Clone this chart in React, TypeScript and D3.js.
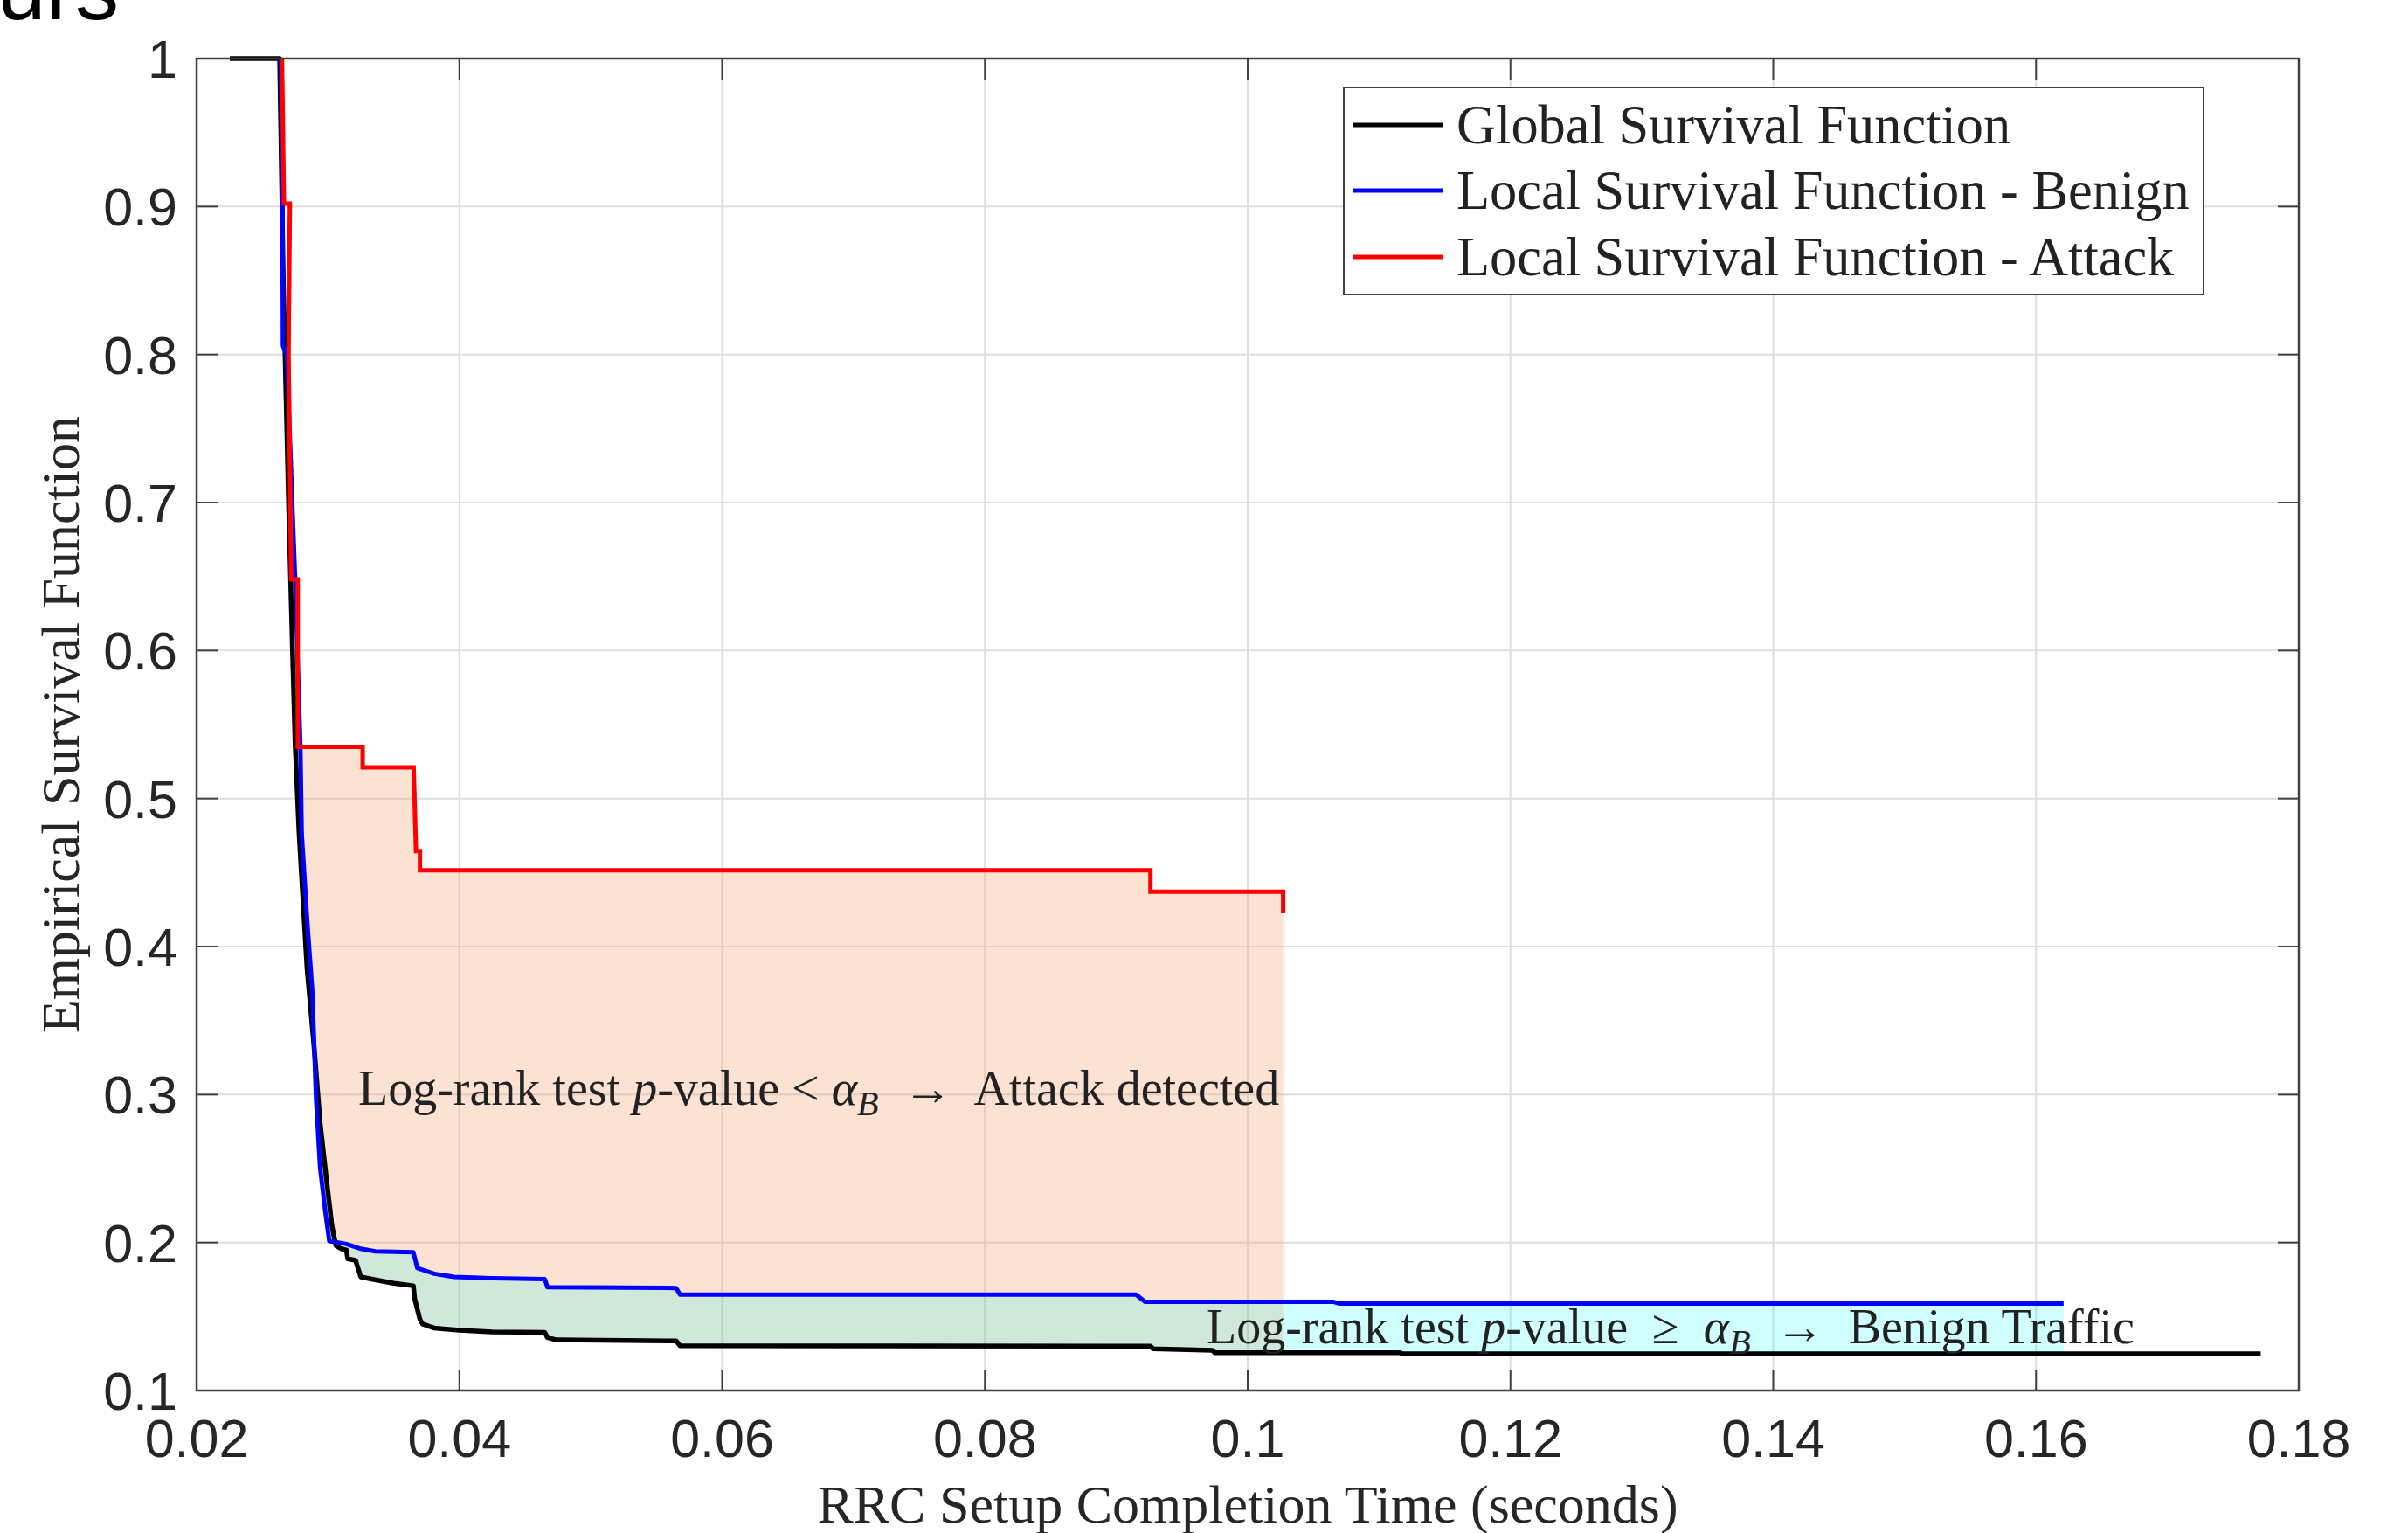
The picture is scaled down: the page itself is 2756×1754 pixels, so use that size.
import React, { useEffect } from "react";
import * as d3 from "d3";

const X_TICKS = [0.02, 0.04, 0.06, 0.08, 0.1, 0.12, 0.14, 0.16, 0.18];
const X_TICK_LABELS = ["0.02", "0.04", "0.06", "0.08", "0.1", "0.12", "0.14", "0.16", "0.18"];
const Y_TICKS = [0.1, 0.2, 0.3, 0.4, 0.5, 0.6, 0.7, 0.8, 0.9, 1];
const Y_TICK_LABELS = ["0.1", "0.2", "0.3", "0.4", "0.5", "0.6", "0.7", "0.8", "0.9", "1"];

const SERIES_NAMES = [
  "Global Survival Function",
  "Local Survival Function - Benign",
  "Local Survival Function - Attack",
];
const SERIES_COLORS = ["#000000", "#0000ff", "#ff0000"];

// Global survival function (time, survival)
const GLOBAL_SF: [number, number][] = [
  [0.02253, 1.0], [0.02632, 1.0], [0.0266, 0.85], [0.027, 0.7], [0.0273, 0.6],
  [0.0275, 0.537], [0.0278, 0.4765], [0.0281, 0.431], [0.0284, 0.386], [0.029, 0.326],
  [0.0294, 0.281], [0.0299, 0.2416], [0.0303, 0.2114], [0.0306, 0.198], [0.031, 0.1958],
  [0.0314, 0.195], [0.0315, 0.189], [0.0321, 0.188], [0.0322, 0.185], [0.0325, 0.1768],
  [0.0335, 0.175], [0.035, 0.1725], [0.0365, 0.1708], [0.0366, 0.162], [0.037, 0.148],
  [0.0372, 0.145], [0.0381, 0.1422], [0.04, 0.1407], [0.0425, 0.1395], [0.0465, 0.1393],
  [0.0467, 0.1358], [0.0474, 0.1342], [0.0565, 0.1335], [0.0568, 0.1302], [0.0926, 0.13],
  [0.0928, 0.1282], [0.0973, 0.1272], [0.0975, 0.1256], [0.1116, 0.1255], [0.1118, 0.1248],
  [0.1771, 0.1248],
];

// Local survival function - benign
const BENIGN_SF: [number, number][] = [
  [0.0264, 1.0], [0.02654, 0.9], [0.02657, 0.806], [0.02687, 0.799], [0.0275, 0.648],
  [0.0279, 0.535], [0.028, 0.4765], [0.02843, 0.416], [0.0288, 0.371], [0.0291, 0.296],
  [0.0294, 0.2506], [0.0298, 0.2205], [0.0301, 0.2009], [0.0308, 0.2], [0.0314, 0.199],
  [0.0325, 0.1958], [0.0336, 0.194], [0.0365, 0.1934], [0.0368, 0.1828], [0.0381, 0.1789],
  [0.0396, 0.1768], [0.0425, 0.1759], [0.0465, 0.1753], [0.0467, 0.1699], [0.0565, 0.1693],
  [0.0568, 0.1648], [0.0915, 0.1648], [0.0922, 0.16], [0.1065, 0.16], [0.107, 0.1587],
  [0.1621, 0.1587],
];

// Local survival function - attack
const ATTACK_SF: [number, number][] = [
  [0.0265, 1.0], [0.02665, 0.902], [0.0271, 0.902], [0.027, 0.8], [0.0272, 0.648],
  [0.0277, 0.648], [0.0277, 0.535], [0.03264, 0.535], [0.03264, 0.521], [0.03652, 0.521],
  [0.0367, 0.4645], [0.037, 0.4645], [0.037, 0.4515], [0.0926, 0.4515], [0.0926, 0.437],
  [0.1027, 0.437], [0.1027, 0.4225],
];

const ATTACK_END = 0.1027;
const BENIGN_END = 0.1621;

const W = 2756;
const H = 1754;
const M = { left: 225, right: 2631, top: 67, bottom: 1591 };

function clipX(pts: [number, number][], x0: number, x1: number): [number, number][] {
  const out: [number, number][] = [];
  for (let i = 0; i < pts.length; i++) {
    const p = pts[i];
    const q = pts[i - 1];
    if (q) {
      const lerp = (x: number): [number, number] => [x, q[1] + ((p[1] - q[1]) * (x - q[0])) / (p[0] - q[0])];
      if (q[0] < x0 && p[0] > x0) out.push(lerp(x0));
      if (q[0] < x1 && p[0] > x1) out.push(lerp(x1));
    }
    if (p[0] >= x0 && p[0] <= x1) out.push(p);
  }
  return out;
}

export default function App() {
  useEffect(() => {
    document.body.style.margin = "0";
  }, []);

  const x = d3.scaleLinear().domain([0.02, 0.18]).range([M.left, M.right]);
  const y = d3.scaleLinear().domain([0.1, 1]).range([M.bottom, M.top]);
  const line = d3.line<[number, number]>().x((d) => x(d[0])).y((d) => y(d[1]));

  // Orange: between attack and benign
  const redStart = ATTACK_SF.findIndex((p) => p[1] <= 0.5351);
  const redPart = ATTACK_SF.slice(redStart).filter((p) => p[0] <= ATTACK_END && p[1] > 0.43);
  const bluePartOrange = clipX(BENIGN_SF, 0.0279, ATTACK_END).filter((p) => p[1] <= 0.5351);
  const orangePoly = [...redPart, ...bluePartOrange.slice().reverse()];

  // Green: between benign and global up to the attack end
  const greenTop = clipX(BENIGN_SF, 0.0275, ATTACK_END);
  const greenBot = clipX(GLOBAL_SF, 0.0275, ATTACK_END);
  const greenPoly = [...greenTop, ...greenBot.slice().reverse()];

  // Cyan: between benign and global after the attack end
  const cyanTop = clipX(BENIGN_SF, ATTACK_END, BENIGN_END);
  const cyanBot = clipX(GLOBAL_SF, ATTACK_END, BENIGN_END);
  const cyanPoly = [...cyanTop, ...cyanBot.slice().reverse()];

  const serif = "'Liberation Serif', 'Times New Roman', serif";
  const sans = "'Liberation Sans', Arial, Helvetica, sans-serif";
  const axisColor = "#404040";

  const legendX0 = 1538;
  const legendY0 = 100;
  const legendW = 984;
  const legendH = 237;
  const legendRows = [143, 218, 294];
  const annSize = 56;
  const subSize = 40;

  return (
    <svg
      width={W}
      height={H}
      viewBox={`0 0 ${W} ${H}`}
      style={{ display: "block", position: "absolute", left: 0, top: 0, background: "#fff" }}
    >
      <rect x={0} y={0} width={W} height={H} fill="#ffffff" />
      <text x={136} y={22} fontFamily={sans} fontSize={100} textAnchor="end" fill="#000">
        urs
      </text>

      {/* grid */}
      {X_TICKS.slice(1, -1).map((t) => (
        <line key={"gx" + t} x1={x(t)} x2={x(t)} y1={M.top} y2={M.bottom} stroke="#dedede" strokeWidth={2} />
      ))}
      {Y_TICKS.slice(1, -1).map((t) => (
        <line key={"gy" + t} x1={M.left} x2={M.right} y1={y(t)} y2={y(t)} stroke="#dedede" strokeWidth={2} />
      ))}

      {/* fills */}
      <path d={line(orangePoly) + "Z"} fill="rgb(245,158,108)" fillOpacity={0.3} stroke="none" />
      <path d={line(greenPoly) + "Z"} fill="rgb(98,178,132)" fillOpacity={0.3} stroke="none" />
      <path d={line(cyanPoly) + "Z"} fill="rgb(0,255,255)" fillOpacity={0.19} stroke="none" />

      {/* curves */}
      <path d={line(GLOBAL_SF) || ""} fill="none" stroke={SERIES_COLORS[0]} strokeWidth={5.5} strokeLinejoin="round" />
      <path d={line(BENIGN_SF) || ""} fill="none" stroke={SERIES_COLORS[1]} strokeWidth={5} strokeLinejoin="round" />
      <path d={line(ATTACK_SF) || ""} fill="none" stroke={SERIES_COLORS[2]} strokeWidth={5} strokeLinejoin="miter" />

      {/* annotations */}
      <text x={410} y={1264} fontFamily={serif} fontSize={annSize} fill="#222" style={{ whiteSpace: "pre" }}>
        Log-rank test <tspan fontStyle="italic">p</tspan>-value {"<"} <tspan fontStyle="italic">α</tspan>
        <tspan fontStyle="italic" fontSize={subSize} dy={12}>B</tspan>
        <tspan dy={-12}>{"  →  Attack detected"}</tspan>
      </text>
      <text x={1381} y={1537} fontFamily={serif} fontSize={annSize} fill="#222" style={{ whiteSpace: "pre" }}>
        Log-rank test <tspan fontStyle="italic">p</tspan>-value {" ≥  "}<tspan fontStyle="italic">α</tspan>
        <tspan fontStyle="italic" fontSize={subSize} dy={12}>B</tspan>
        <tspan dy={-12}>{"  →  Benign Traffic"}</tspan>
      </text>

      {/* axes box */}
      <rect x={M.left} y={M.top} width={M.right - M.left} height={M.bottom - M.top} fill="none" stroke={axisColor} strokeWidth={2.5} />
      {X_TICKS.map((t) => (
        <g key={"tx" + t}>
          <line x1={x(t)} x2={x(t)} y1={M.bottom} y2={M.bottom - 24} stroke={axisColor} strokeWidth={2} />
          <line x1={x(t)} x2={x(t)} y1={M.top} y2={M.top + 24} stroke={axisColor} strokeWidth={2} />
        </g>
      ))}
      {Y_TICKS.map((t) => (
        <g key={"ty" + t}>
          <line x1={M.left} x2={M.left + 24} y1={y(t)} y2={y(t)} stroke={axisColor} strokeWidth={2} />
          <line x1={M.right} x2={M.right - 24} y1={y(t)} y2={y(t)} stroke={axisColor} strokeWidth={2} />
        </g>
      ))}

      {/* tick labels */}
      {X_TICKS.map((t, i) => (
        <text key={"lx" + t} x={x(t)} y={1667} fontFamily={sans} fontSize={61} textAnchor="middle" fill="#262626">
          {X_TICK_LABELS[i]}
        </text>
      ))}
      {Y_TICKS.map((t, i) => (
        <text key={"ly" + t} x={203} y={y(t) + 22} fontFamily={sans} fontSize={61} textAnchor="end" fill="#262626">
          {Y_TICK_LABELS[i]}
        </text>
      ))}

      {/* axis labels */}
      <text x={(M.left + M.right) / 2} y={1742} fontFamily={serif} fontSize={62} textAnchor="middle" fill="#262626">
        RRC Setup Completion Time (seconds)
      </text>
      <text
        transform={`translate(90, ${(M.top + M.bottom) / 2}) rotate(-90)`}
        fontFamily={serif}
        fontSize={62}
        textAnchor="middle"
        fill="#262626"
      >
        Empirical Survival Function
      </text>

      {/* legend */}
      <rect x={legendX0} y={legendY0} width={legendW} height={legendH} fill="#ffffff" stroke={axisColor} strokeWidth={2} />
      {SERIES_NAMES.map((name, i) => (
        <g key={name}>
          <line x1={1548} x2={1652} y1={legendRows[i]} y2={legendRows[i]} stroke={SERIES_COLORS[i]} strokeWidth={5} />
          <text x={1667} y={legendRows[i] + 21} fontFamily={serif} fontSize={62.4} fill="#222">
            {name}
          </text>
        </g>
      ))}
    </svg>
  );
}
